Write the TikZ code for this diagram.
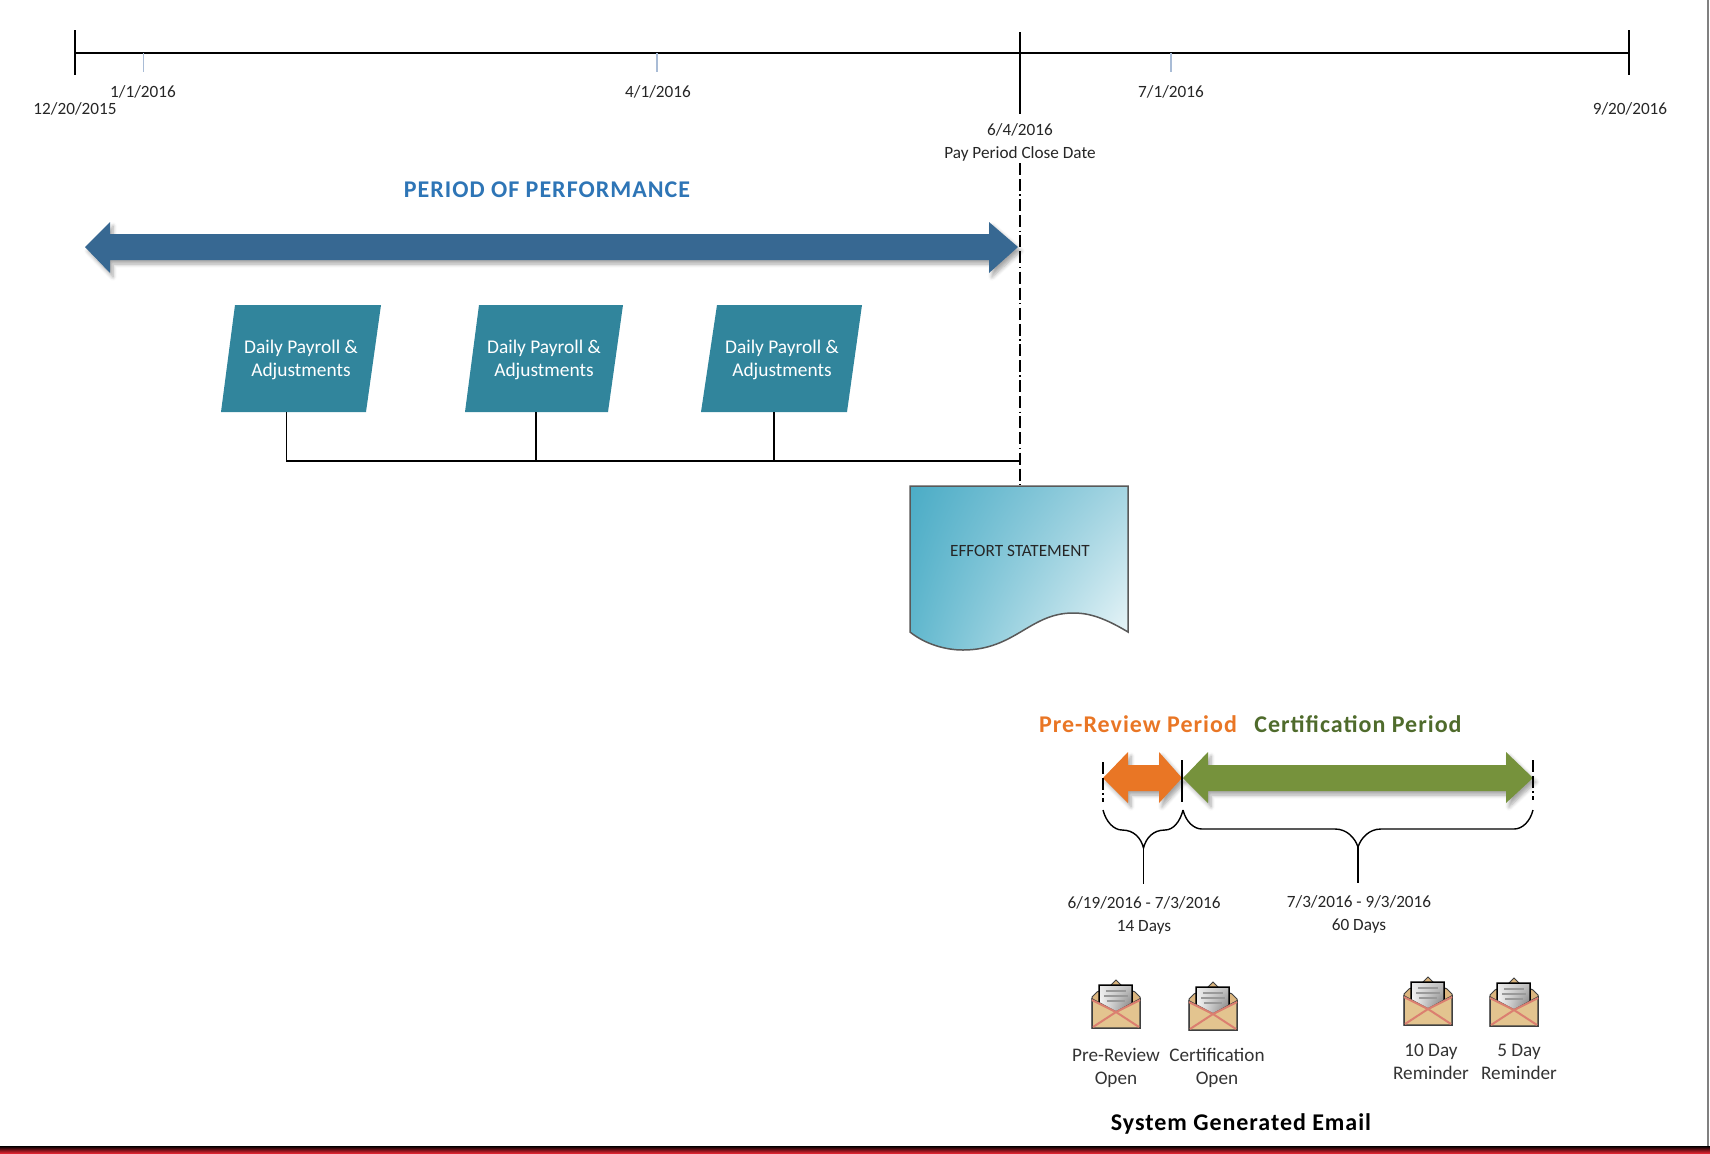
\documentclass[tikz,border=0pt]{standalone}
\usepackage{fontspec}
\setmainfont{Carlito}
\usepackage{tikz}
\usetikzlibrary{shadows.blur,shadings}
\definecolor{perfblue}{HTML}{376892}
\definecolor{titleblue}{HTML}{2E75B6}
\definecolor{payteal}{HTML}{31859C}
\definecolor{reviewor}{HTML}{E97625}
\definecolor{certgreen}{HTML}{76923C}
\definecolor{certtext}{HTML}{4F6B2C}
\definecolor{envtan}{HTML}{E3C48F}
\definecolor{envpink}{HTML}{DB7F70}
\definecolor{tickblue}{HTML}{A9BCD6}
\definecolor{barred}{HTML}{DC2430}
\definecolor{docul}{HTML}{4BACC6}
\definecolor{docur}{HTML}{A5D5E2}
\definecolor{docll}{HTML}{62B8CE}
\definecolor{doclr}{HTML}{EFF8FA}
\tikzset{
  small/.style={font=\fontsize{8.6}{11.5}\selectfont,align=center,text=black!85},
  mail/.style={font=\fontsize{9.6}{11.5}\selectfont,align=center,text=black!80},
  heading/.style={font=\bfseries\fontsize{12}{14}\selectfont\addfontfeatures{LetterSpace=4.2}},
  band/.style={blur shadow={shadow xshift=1.5pt,shadow yshift=-2pt,shadow blur steps=6,shadow opacity=35}},
  payshape/.style={fill=payteal},
  paytext/.style={font=\fontsize{9.7}{11.5}\selectfont,align=center,text=white},
  rule/.style={black,line width=0.7pt},
  tick/.style={tickblue,line width=0.75pt},
  cutline/.style={black,line width=0.6pt,dash pattern=on 6pt off 2pt on 6pt off 1.7pt on 0.7pt off 1.7pt}
}
\begin{document}
\begin{tikzpicture}[x=0.5pt,y=-0.5pt]
\useasboundingbox (0,0) rectangle (1710,1153);
\draw[black!50,line width=1pt] (1708,0) -- (1708,1146);
\shade[top color=black,bottom color=barred] (0,1146) rectangle (1710,1153);

% time line
\coordinate (tlstart) at (75,53);
\coordinate (tlend) at (1629,53);
\coordinate (tlclose) at (1020,53);
\draw[rule] (tlstart) -- (tlend);
\draw[rule] (75,30) -- (75,75);
\draw[rule] (1629,30) -- (1629,75);
\draw[rule] (1020,32) -- (1020,114);
\draw[tick] (143.5,53) -- (143.5,72);
\draw[tick] (657,53) -- (657,72);
\draw[tick] (1171,53) -- (1171,72);
\node[small] (d1) at (143,92) {1/1/2016};
\node[small] (d0) at (75,109) {12/20/2015};
\node[small] (d2) at (658,92) {4/1/2016};
\node[small] (d3) at (1171,92) {7/1/2016};
\node[small] (d4) at (1630,109) {9/20/2016};
\node[small] (close) at (1020,142) {6/4/2016\\Pay Period Close Date};

% period of performance
\node[heading,text=titleblue] (perf) at (547,189.5) {PERIOD OF PERFORMANCE};
\fill[perfblue,band] (85,247) -- (110,222) -- (110,234) -- (989,234) -- (989,222) -- (1018,247)
  -- (989,273) -- (989,260) -- (110,260) -- (110,273) -- cycle;

% payroll boxes
\fill[payshape] (235,305) -- (381,305) -- (366,412) -- (221,412) -- cycle;
\fill[payshape] (479,305) -- (623,305) -- (608,412) -- (465,412) -- cycle;
\fill[payshape] (717,305) -- (862,305) -- (847,412) -- (701,412) -- cycle;
\node[paytext] (pay1) at (301,360) {Daily Payroll \&\\Adjustments};
\node[paytext] (pay2) at (544,360) {Daily Payroll \&\\Adjustments};
\node[paytext] (pay3) at (782,360) {Daily Payroll \&\\Adjustments};
\coordinate (foot1) at (286.5,412);
\coordinate (foot2) at (536,412);
\coordinate (foot3) at (774,412);
\coordinate (join) at (1020,461);
\draw[rule] (foot1) |- (join);
\draw[rule] (foot2) -- (foot2 |- join);
\draw[rule] (foot3) -- (foot3 |- join);

% effort statement
\shade[draw=black!65,line width=0.75pt,upper left=docul,upper right=docur,lower left=docll,lower right=doclr]
  (910,486) -- (1128,486) -- (1128,632) .. controls (1100,615) and (1085,613) .. (1073,613)
  .. controls (1030,613) and (1015,650) .. (963,650) .. controls (945,650) and (925,644) .. (910,632) -- cycle;
\coordinate (doctop) at (1020,486);
\node[small,text=black!85] (effort) at (1020,551) {EFFORT STATEMENT};
\draw[cutline] (1020,163) -- (doctop);

% review periods
\node[heading,text=reviewor] (pretitle) at (1138,724) {Pre-Review Period};
\node[heading,text=certtext] (certtitle) at (1358,724) {Certification Period};
\fill[reviewor,band] (1103,778) -- (1128,752) -- (1128,765) -- (1159,765) -- (1159,752) -- (1182,778)
  -- (1159,803) -- (1159,791) -- (1128,791) -- (1128,803) -- cycle;
\fill[certgreen,band] (1183,778) -- (1208,752) -- (1208,765) -- (1506,765) -- (1506,752) -- (1533,778)
  -- (1506,803) -- (1506,791) -- (1208,791) -- (1208,803) -- cycle;
\draw[cutline] (1103,762) -- (1103,802);
\draw[rule] (1182,760) -- (1182,802);
\draw[cutline] (1533,760) -- (1533,800);

% braces
\coordinate (tip1) at (1143.5,848);
\coordinate (tip2) at (1358,847);
\coordinate (stem1) at (1143.5,884);
\coordinate (stem2) at (1358,883);
\draw[rule] (1103,810) .. controls (1106,822) and (1114,830) .. (1122,830)
  .. controls (1134,830) and (1141,838) .. (tip1) .. controls (1146,838) and (1153,830) .. (1165,830)
  .. controls (1173,830) and (1180,822) .. (1183,810);
\draw[rule] (1183,810) .. controls (1186,822) and (1194,829) .. (1202,829) -- (1335,829)
  .. controls (1347,829) and (1355,838) .. (tip2) .. controls (1361,838) and (1369,829) .. (1381,829)
  -- (1514,829) .. controls (1522,829) and (1530,822) .. (1533,810);
\draw[rule] (tip1) -- (stem1);
\draw[rule] (tip2) -- (stem2);
\node[small] (range1) at (1144,915.5) {6/19/2016 - 7/3/2016\\14 Days};
\node[small] (range2) at (1359,914.5) {7/3/2016 - 9/3/2016\\60 Days};

% envelopes
\foreach \ex/\ey in {1092/980,1189/982,1404/977,1490/978}{
\begin{scope}[shift={(\ex,\ey)}]
\fill[envtan!80!brown,draw=black!75,line width=0.5pt] (0,17) -- (5,12) -- (18,6) -- (24,0) -- (30,6) -- (43,12) -- (48,17) -- (48,48) -- (0,48) -- cycle;
\shade[draw=black,line width=0.75pt,upper left=black!8,upper right=black!25,lower left=white,lower right=black!55]
  (7,5) -- (40,5) -- (40,25) -- (24,32) -- (7,25) -- cycle;
\foreach \ly/\lx in {11/2,16/0,21/3}
  \draw[black!40,line width=1pt] (12+\lx,\ly) -- (36-\lx,\ly);
\fill[envtan,draw=black!75,line width=0.75pt] (0,19) -- (24,32) -- (48,19) -- (48,48) -- (0,48) -- cycle;
\draw[envpink,line width=1pt] (0,20) -- (24,32) -- (48,20);
\draw[envpink,line width=1pt] (1,47) -- (24,32) -- (47,47);
\end{scope}
}
\node[mail] (mail1) at (1116,1067.5) {Pre-Review\\Open};
\node[mail] (mail2) at (1217,1067.5) {Certification\\Open};
\node[mail] (mail3) at (1431,1061.5) {10 Day\\Reminder};
\node[mail] (mail4) at (1519,1061.5) {5 Day\\Reminder};
\node[font=\bfseries\fontsize{12}{14}\selectfont\addfontfeatures{LetterSpace=4}] (system) at (1241,1124) {System Generated Email};
\end{tikzpicture}
\end{document}
